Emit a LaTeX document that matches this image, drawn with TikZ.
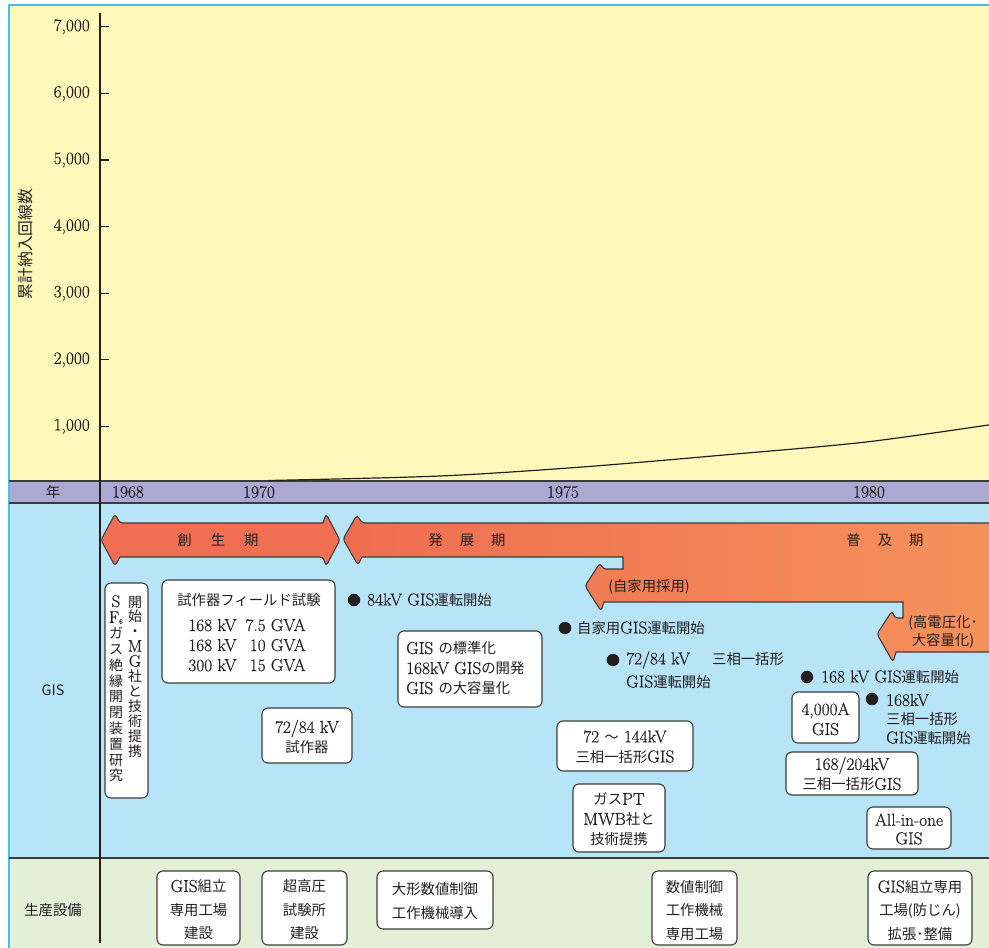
\documentclass[tikz,border=0pt]{standalone}
\usepackage{fontspec}
\setmainfont{Latin Modern Roman}[FakeBold=0.5]
\newfontfamily\jpf[Scale=0.83]{Noto Sans CJK JP}
\newcommand\J[1]{{\jpf #1}}
\definecolor{yel}{HTML}{FEF9BA}
\definecolor{pur}{HTML}{ADA8D2}
\definecolor{blu}{HTML}{B8E4F7}
\definecolor{grn}{HTML}{E3EFD7}
\definecolor{cyanc}{HTML}{3FC3EC}
\definecolor{linec}{HTML}{3C3C3C}
\definecolor{txtc}{HTML}{231F20}
\definecolor{arr1}{HTML}{F06E51}
\definecolor{arrA}{HTML}{EF6D50}
\definecolor{arrB}{HTML}{F5925B}
\begin{document}
\begin{tikzpicture}[x=1pt,y=-1pt,
  box/.style={draw=linec, fill=white, rounded corners=6pt, line width=1.1pt, inner sep=0},
  txt/.style={font=\fontsize{17.3}{20}\selectfont, text=txtc, inner sep=0, align=center},
  txtb/.style={font=\fontsize{17.3}{23.5}\selectfont, text=txtc, inner sep=0, align=center},
  vch/.style={font=\fontsize{16.8}{15.5}\selectfont, text=txtc, inner sep=0, text height=10pt, text depth=2pt},
  dotn/.style={circle, fill=txtc, minimum size=12.5pt, inner sep=0},
  arrline/.style={draw=linec, line width=1.1pt}]
\useasboundingbox (0,0) rectangle (989,948);
% backgrounds
\fill[white] (0,0) rectangle (989,948);
\fill[yel] (9,5) rectangle (989,481);
\fill[pur] (9,481) rectangle (989,503);
\fill[blu] (9,503) rectangle (989,858);
\fill[grn] (9,858) rectangle (989,948);
\draw[cyanc, line width=1.5pt] (9,948) -- (9,5) -- (989,5);
\draw[linec, line width=2pt] (9,481) -- (989,481);
\draw[linec, line width=1.5pt] (9,503) -- (989,503);
\draw[linec, line width=2pt] (9,858) -- (989,858);
\draw[txtc, line width=1.4pt] (100,13) -- (100,943);
% ticks and labels
\foreach \v/\lab in {1/{1,000},2/{2,000},3/{3,000},4/{4,000},5/{5,000},6/{6,000},7/{7,000}}{
  \draw[txtc, line width=1.3pt] (100,{493-66.6*\v}) -- (109,{493-66.6*\v});
  \node[txt, anchor=east] (tick\v) at (90,{493-66.6*\v}) {\lab};
}
\node[txt, rotate=90, font=\fontsize{19}{20}\selectfont] (ylab) at (26,244) {\J{累計納入回線数}};
% curve
\draw[txtc, line width=1.2pt] plot[smooth] coordinates {(268,480.5) (440,476) (582,467) (724,455) (866,442) (995,424)};
% year band
\node[txt] (nen) at (53,492) {\J{年}};
\node[txt] (y68) at (128,492) {1968};
\node[txt] (y70) at (259,492) {1970};
\node[txt] (y75) at (563,492) {1975};
\node[txt] (y80) at (869,492) {1980};
\node[txt] (gislab) at (53,690) {\J{GIS}};
\node[txt] (seisan) at (53,910) {\J{生産設備}};
% arrows
\path[arrline, fill=arr1] (101,540) [rounded corners=3pt] -- (115,514) -- (120,523) [sharp corners] -- (323,523) [rounded corners=3pt] -- (326,514) -- (340,540) -- (326,566) -- (323,557) [sharp corners] -- (120,557) [rounded corners=3pt] -- (115,566) -- cycle;
\path[arrline, left color=arrA, right color=arrB] (343,539) [rounded corners=3pt] -- (357,515) -- (362,523) [sharp corners] -- (995,523) -- (995,652) -- (896,652) [rounded corners=3pt] -- (893,662) -- (877,634) -- (892,611) -- (895,618) [sharp corners] -- (903,618) -- (903,602) -- (604,602) [rounded corners=3pt] -- (601,611) -- (585,586) -- (600,563) -- (603,569) [sharp corners] -- (623,569) -- (623,557) -- (362,557) [rounded corners=3pt] -- (358,565) -- cycle;
\node[txt] (sousei) at (218,540) {\J{創}\hspace{19pt}\J{生}\hspace{19pt}\J{期}};
\node[txt] (hatten) at (467,540) {\J{発}\hspace{17pt}\J{展}\hspace{17pt}\J{期}};
\node[txt] (fukyu) at (885,540) {\J{普}\hspace{17pt}\J{及}\hspace{17pt}\J{期}};
\node[txt] (jika) at (649,587) {\J{(自家用採用)}};
\node[txt, font=\fontsize{17.3}{18.5}\selectfont] (kouden) at (943,632) {\J{(高電圧化･}\\\J{大容量化)}};
% vertical box
\node[box, minimum width=43pt, minimum height=215pt] (bA) at (126.5,690.5) {};
\foreach \c [count=\i] in {S,F\raisebox{-1pt}{\fontsize{7}{7}\selectfont 6},\J{ガ},\J{ス},\J{絶},\J{縁},\J{開},\J{閉},\J{装},\J{置},\J{研},\J{究}}
  \node[vch] (cl\i) at (116,{603+(\i-1)*15.8}) {\c};
\foreach \c [count=\i] in {\J{開},\J{始},\J{・},M,G,\J{社},\J{と},\J{技},\J{術},\J{提},\J{携}}
  \node[vch] (cr\i) at (135,{603+(\i-1)*14.9}) {\c};
% boxes GIS band
\node[box, minimum width=173pt, minimum height=103pt] (bB) at (248.5,631.5) {};
\node[txt] (tB1) at (249,600) {\J{試作器フィールド試験}};
\node[txt] (tB2) at (247,647) {\begin{tabular}{@{}l@{\hspace{9pt}}r@{}}168 kV & 7.5 GVA\\168 kV & 10 GVA\\300 kV & 15 GVA\end{tabular}};
\node[box, minimum width=90pt, minimum height=55pt] (bC) at (307,735.5) {};
\node[txt] (tC) at (307,737) {72/84 kV\\\J{試作器}};
\node[box, minimum width=144pt, minimum height=76pt] (bD) at (470,669) {};
\node[txt, align=left, anchor=west] (tD) at (406,668.5) {GIS \J{の標準化}\\168kV GIS\J{の開発}\\GIS \J{の大容量化}};
\node[box, minimum width=136pt, minimum height=50pt] (bE) at (625,746) {};
\node[txt] (tE) at (625,747) {72 \J{〜} 144kV\\\J{三相一括形}GIS};
\node[box, minimum width=92pt, minimum height=68pt] (bF) at (619,818) {};
\node[txt] (tF) at (619,819.5) {\J{ガス}PT\\MWB\J{社と}\\\J{技術提携}};
\node[box, minimum width=67pt, minimum height=51pt] (bG) at (825.5,717.5) {};
\node[txt] (tG) at (825.5,719) {4,000A\\GIS};
\node[box, minimum width=132pt, minimum height=43pt] (bH) at (852,773.5) {};
\node[txt] (tH) at (852,774) {168/204kV\\\J{三相一括形}GIS};
\node[box, minimum width=84pt, minimum height=42pt] (bI) at (909,828) {};
\node[txt, font=\fontsize{17.3}{18.5}\selectfont] (tI) at (909,829) {All-in-one\\GIS};
% bullets
\node[dotn] (d1) at (354,600) {};
\node[txt, anchor=west] (e1) at (367,600) {84kV GIS\J{運転開始}};
\node[dotn] (d2) at (565,628) {};
\node[txt, anchor=west] (e2) at (577,628) {\J{自家用}GIS\J{運転開始}};
\node[dotn] (d3) at (613,660) {};
\node[txt, anchor=west] (e3a) at (626,660) {72/84 kV\hspace{22pt}\J{三相一括形}};
\node[txt, anchor=west] (e3b) at (626,682) {GIS\J{運転開始}};
\node[dotn] (d4) at (807,677) {};
\node[txt, anchor=west] (e4) at (821,677) {168 kV GIS\J{運転開始}};
\node[dotn] (d5) at (872,699) {};
\node[txt, anchor=west] (e5a) at (886,700) {168kV};
\node[txt, anchor=west] (e5b) at (886,719) {\J{三相一括形}};
\node[txt, anchor=west] (e5c) at (886,738) {GIS\J{運転開始}};
% production boxes
\node[box, minimum width=83pt, minimum height=74pt] (bJ) at (198.5,908) {};
\node[txtb] (tJ) at (198.5,910) {GIS\J{組立}\\\J{専用工場}\\\J{建設}};
\node[box, minimum width=85pt, minimum height=74pt] (bK) at (304.5,908) {};
\node[txtb] (tK) at (304.5,910) {\J{超高圧}\\\J{試験所}\\\J{建設}};
\node[box, minimum width=116pt, minimum height=58pt] (bL) at (435,900) {};
\node[txtb] (tL) at (435,901) {\J{大形数値制御}\\\J{工作機械導入}};
\node[box, minimum width=85pt, minimum height=74pt] (bM) at (694.5,908) {};
\node[txtb] (tM) at (694.5,910.5) {\J{数値制御}\\\J{工作機械}\\\J{専用工場}};
\node[box, minimum width=104pt, minimum height=74pt] (bN) at (920,908) {};
\node[txtb] (tN) at (920,910.5) {GIS\J{組立専用}\\\J{工場(防じん)}\\\J{拡張･整備}};
\end{tikzpicture}
\end{document}
